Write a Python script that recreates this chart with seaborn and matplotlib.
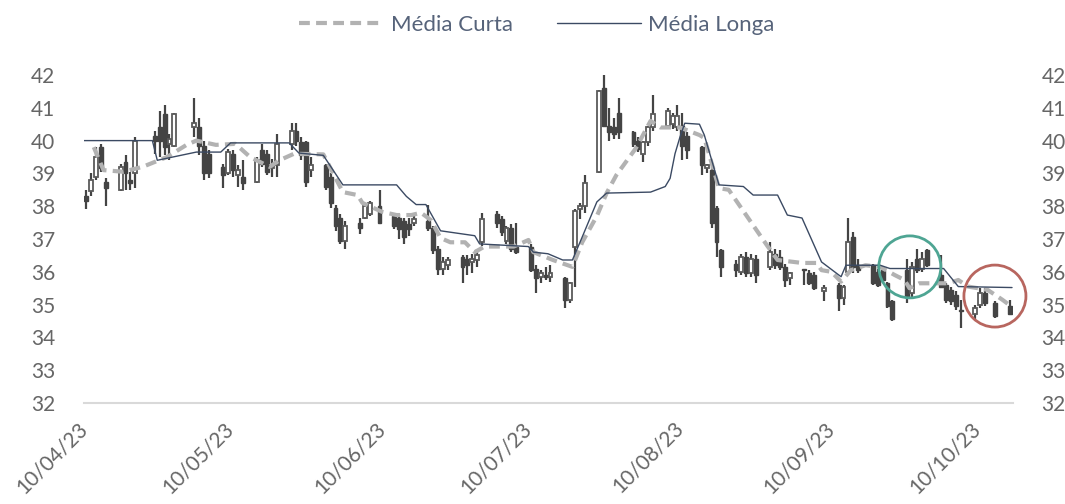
import matplotlib
matplotlib.use("Agg")
import matplotlib.pyplot as plt
import matplotlib.dates as mdates
from matplotlib.patches import Ellipse
import numpy as np
import pandas as pd
import seaborn as sns

# pregões (candles)
datas = [
    "2023-04-10", "2023-04-11", "2023-04-12", "2023-04-13", "2023-04-14", "2023-04-17", "2023-04-18",
    "2023-04-19", "2023-04-20", "2023-04-24", "2023-04-25", "2023-04-26", "2023-04-27", "2023-04-28",
    "2023-05-02", "2023-05-03", "2023-05-04", "2023-05-05", "2023-05-08", "2023-05-09", "2023-05-10",
    "2023-05-11", "2023-05-12", "2023-05-15", "2023-05-16", "2023-05-17", "2023-05-18", "2023-05-19",
    "2023-05-22", "2023-05-23", "2023-05-24", "2023-05-25", "2023-05-26", "2023-05-29", "2023-05-30",
    "2023-05-31", "2023-06-01", "2023-06-02", "2023-06-05", "2023-06-06", "2023-06-07", "2023-06-09",
    "2023-06-12", "2023-06-13", "2023-06-14", "2023-06-15", "2023-06-16", "2023-06-19", "2023-06-20",
    "2023-06-21", "2023-06-22", "2023-06-23", "2023-06-26", "2023-06-27", "2023-06-28", "2023-06-29",
    "2023-06-30", "2023-07-03", "2023-07-04", "2023-07-05", "2023-07-06", "2023-07-07", "2023-07-10",
    "2023-07-11", "2023-07-12", "2023-07-13", "2023-07-14", "2023-07-17", "2023-07-18", "2023-07-19",
    "2023-07-20", "2023-07-21", "2023-07-24", "2023-07-25", "2023-07-26", "2023-07-27", "2023-07-28",
    "2023-07-31", "2023-08-01", "2023-08-02", "2023-08-03", "2023-08-04", "2023-08-07", "2023-08-08",
    "2023-08-09", "2023-08-10", "2023-08-11", "2023-08-14", "2023-08-15", "2023-08-16", "2023-08-17",
    "2023-08-18", "2023-08-21", "2023-08-22", "2023-08-23", "2023-08-24", "2023-08-25", "2023-08-28",
    "2023-08-29", "2023-08-30", "2023-08-31", "2023-09-01", "2023-09-04", "2023-09-05", "2023-09-06",
    "2023-09-08", "2023-09-11", "2023-09-12", "2023-09-13", "2023-09-14", "2023-09-15", "2023-09-18",
    "2023-09-19", "2023-09-20", "2023-09-21", "2023-09-22", "2023-09-25", "2023-09-26", "2023-09-27",
    "2023-09-28", "2023-09-29", "2023-10-02", "2023-10-03", "2023-10-04", "2023-10-05", "2023-10-06",
    "2023-10-09", "2023-10-10", "2023-10-11", "2023-10-13", "2023-10-16",
]
abertura = [
    38.30, 38.45, 38.90, 39.80, 38.75, 38.50, 39.35, 38.80, 39.00, 40.15, 40.40, 40.80, 39.90, 39.85,
    40.40, 40.40, 39.85, 39.60, 39.20, 39.00, 39.60, 38.95, 38.90, 38.75, 39.70, 39.60, 39.15, 39.25,
    39.90, 40.30, 39.95, 39.95, 39.10, 39.25, 38.90, 37.95, 37.65, 36.95, 37.50, 37.65, 37.75, 38.00,
    37.70, 37.65, 37.55, 37.45, 37.50, 37.55, 37.35, 36.70, 36.10, 36.20, 36.45, 36.40, 36.30, 36.35,
    36.90, 37.75, 37.60, 36.95, 37.35, 36.75, 36.75, 36.10, 35.85, 35.90, 35.85, 35.80, 35.15, 36.75,
    37.90, 38.00, 39.05, 41.60, 40.45, 40.40, 40.85, 40.25, 40.00, 39.60, 39.95, 40.40, 40.45, 40.50,
    40.40, 40.45, 40.15, 39.80, 39.15, 39.10, 37.95, 36.65, 36.25, 36.00, 36.45, 35.95, 36.40, 36.15,
    36.55, 36.45, 36.15, 35.80, 36.10, 35.95, 35.90, 35.40, 35.60, 35.20, 36.00, 37.05, 36.20, 36.20,
    36.00, 36.05, 35.65, 35.10, 36.05, 35.35, 36.40, 36.10, 36.65, 35.90, 35.60, 35.45, 35.30, 34.85,
    34.70, 35.00, 35.35, 35.05, 34.95,
]
maxima = [
    38.50, 39.00, 39.80, 39.90, 38.85, 39.30, 39.55, 39.05, 40.10, 40.30, 40.90, 41.10, 40.20, 40.85,
    41.30, 40.70, 40.00, 39.70, 39.30, 39.75, 39.70, 39.25, 39.40, 39.50, 39.90, 39.70, 39.45, 40.20,
    40.55, 40.55, 40.10, 40.00, 39.50, 39.30, 39.00, 38.05, 37.75, 37.55, 37.65, 38.10, 38.15, 38.50,
    37.80, 37.75, 37.65, 37.65, 37.80, 38.05, 37.40, 36.80, 36.45, 36.45, 36.50, 36.50, 36.55, 36.65,
    37.80, 37.85, 37.70, 37.40, 37.45, 37.50, 36.85, 36.20, 36.05, 36.15, 36.20, 35.85, 35.70, 37.90,
    38.10, 38.95, 41.55, 42.00, 41.00, 40.70, 41.30, 40.30, 40.10, 40.00, 40.45, 41.40, 41.00, 40.85,
    41.10, 40.85, 40.25, 39.85, 39.30, 39.20, 38.00, 36.70, 36.35, 36.55, 36.60, 36.55, 36.50, 36.90,
    36.70, 36.65, 36.25, 36.00, 36.10, 36.05, 36.00, 35.60, 35.65, 35.60, 37.65, 37.20, 36.40, 36.25,
    36.10, 36.15, 35.70, 35.15, 36.40, 36.30, 36.70, 36.60, 36.70, 36.50, 35.65, 35.55, 35.40, 35.15,
    35.00, 35.50, 35.50, 35.10, 35.15,
]
minima = [
    37.90, 38.30, 38.80, 39.05, 38.00, 38.45, 38.50, 38.50, 38.55, 39.60, 39.50, 39.55, 39.40, 39.80,
    40.10, 39.55, 38.80, 38.85, 38.55, 38.95, 38.90, 38.60, 38.50, 38.70, 39.20, 38.95, 38.90, 38.90,
    39.70, 39.85, 39.40, 38.60, 38.90, 38.50, 37.95, 37.25, 36.85, 36.70, 37.15, 37.60, 37.70, 37.45,
    37.30, 37.00, 36.85, 37.10, 37.40, 37.25, 36.55, 35.90, 35.90, 36.05, 35.65, 35.90, 35.95, 36.15,
    36.80, 37.35, 37.10, 36.85, 36.60, 36.55, 36.00, 35.35, 35.65, 35.75, 35.70, 34.90, 35.05, 35.55,
    37.60, 37.80, 39.00, 40.40, 40.00, 40.05, 40.05, 39.80, 39.65, 39.35, 39.85, 40.30, 40.35, 40.35,
    40.30, 39.40, 39.45, 38.95, 39.00, 37.35, 36.45, 35.85, 35.85, 35.90, 35.85, 35.85, 35.65, 36.05,
    36.10, 36.05, 35.55, 35.60, 35.60, 35.60, 35.45, 35.10, 34.80, 35.00, 35.95, 35.95, 35.95, 35.60,
    35.55, 35.65, 34.90, 34.50, 35.05, 35.20, 35.95, 36.00, 36.15, 35.50, 35.05, 35.00, 34.85, 34.30,
    34.55, 34.90, 34.95, 34.60, 34.70,
]
fechamento = [
    38.15, 38.80, 39.50, 39.15, 38.55, 39.20, 39.00, 38.70, 40.00, 40.00, 40.00, 39.80, 40.05, 40.80,
    40.55, 39.85, 39.00, 39.00, 38.95, 39.65, 39.10, 39.10, 38.70, 39.40, 39.30, 39.05, 39.25, 39.90,
    40.30, 40.00, 39.55, 38.75, 39.25, 38.60, 38.10, 37.40, 36.95, 37.40, 37.35, 38.00, 38.10, 37.50,
    37.40, 37.30, 37.05, 37.30, 37.60, 37.35, 36.65, 36.10, 36.30, 36.35, 36.15, 36.20, 36.40, 36.50,
    37.60, 37.50, 37.20, 37.35, 36.70, 36.60, 36.05, 35.80, 35.95, 35.85, 35.95, 35.15, 35.65, 37.85,
    38.00, 38.70, 41.50, 40.45, 40.25, 40.20, 40.25, 39.90, 39.75, 39.95, 40.40, 40.80, 40.90, 40.75,
    40.75, 39.85, 39.70, 39.25, 39.25, 37.50, 36.90, 36.15, 36.05, 36.45, 35.95, 36.40, 35.90, 36.60,
    36.20, 36.15, 35.75, 35.95, 36.05, 35.65, 35.50, 35.50, 35.20, 35.55, 36.90, 36.15, 36.05, 35.65,
    35.60, 35.75, 34.95, 34.55, 35.25, 36.15, 36.05, 36.40, 36.20, 35.55, 35.15, 35.10, 34.95, 34.80,
    34.90, 35.35, 35.05, 34.65, 34.70,
]

# médias móveis
curta_datas = [
    "2023-04-12", "2023-04-14", "2023-04-18", "2023-04-22", "2023-04-27", "2023-05-01", "2023-05-03",
    "2023-05-07", "2023-05-11", "2023-05-14", "2023-05-18", "2023-05-20", "2023-05-23", "2023-05-29",
    "2023-06-02", "2023-06-05", "2023-06-06", "2023-06-10", "2023-06-13", "2023-06-16", "2023-06-18",
    "2023-06-20", "2023-06-22", "2023-06-24", "2023-06-27", "2023-06-29", "2023-07-01", "2023-07-07",
    "2023-07-10", "2023-07-11", "2023-07-15", "2023-07-19", "2023-07-21", "2023-07-24", "2023-07-26",
    "2023-07-28", "2023-08-01", "2023-08-04", "2023-08-06", "2023-08-10", "2023-08-14", "2023-08-15",
    "2023-08-18", "2023-08-20", "2023-08-28", "2023-08-30", "2023-09-04", "2023-09-07", "2023-09-08",
    "2023-09-10", "2023-09-12", "2023-09-14", "2023-09-17", "2023-09-20", "2023-09-23", "2023-09-25",
    "2023-09-26", "2023-09-28", "2023-10-04", "2023-10-06", "2023-10-08", "2023-10-12", "2023-10-15",
    "2023-10-17",
]
curta_valores = [
    39.80, 39.10, 39.05, 39.20, 39.50, 39.87, 40.00, 39.87, 39.90, 39.50, 39.20, 39.40, 39.60, 39.58,
    38.43, 38.34, 38.10, 37.83, 37.73, 37.73, 37.80, 37.58, 37.03, 36.90, 36.90, 36.60, 36.77, 36.77,
    36.97, 36.60, 36.36, 36.15, 36.90, 37.70, 38.40, 38.95, 39.77, 40.60, 40.40, 40.40, 40.17, 40.08,
    38.55, 38.50, 36.77, 36.36, 36.27, 36.27, 36.05, 36.00, 35.70, 36.05, 36.20, 36.15, 35.90, 35.75,
    35.50, 35.65, 35.65, 35.75, 35.55, 35.45, 35.15, 34.93,
]
longa_datas = [
    "2023-04-10", "2023-04-24", "2023-04-25", "2023-05-03", "2023-05-08", "2023-05-10", "2023-05-22",
    "2023-05-24", "2023-05-29", "2023-06-02", "2023-06-13", "2023-06-15", "2023-06-17", "2023-06-19",
    "2023-06-22", "2023-06-29", "2023-06-30", "2023-07-10", "2023-07-11", "2023-07-14", "2023-07-17",
    "2023-07-19", "2023-07-21", "2023-07-24", "2023-07-26", "2023-08-04", "2023-08-07", "2023-08-08",
    "2023-08-09", "2023-08-10", "2023-08-11", "2023-08-14", "2023-08-15", "2023-08-18", "2023-08-23",
    "2023-08-25", "2023-08-30", "2023-09-01", "2023-09-04", "2023-09-08", "2023-09-12", "2023-09-13",
    "2023-09-20", "2023-09-22", "2023-10-03", "2023-10-06", "2023-10-17",
]
longa_valores = [
    40.00, 40.00, 39.40, 39.65, 39.65, 39.93, 39.93, 39.62, 39.55, 38.65, 38.65, 38.30, 38.05, 38.05,
    37.25, 37.10, 36.85, 36.77, 36.60, 36.55, 36.36, 36.36, 37.06, 38.13, 38.40, 38.43, 38.60, 38.85,
    39.60, 40.10, 40.53, 40.50, 40.17, 38.65, 38.60, 38.34, 38.34, 37.73, 37.64, 36.30, 35.85, 36.20,
    36.20, 36.10, 36.10, 35.55, 35.52,
]

COR_TEXTO = "#666666"
COR_LEGENDA = "#56637a"
COR_CANDLE = "#444444"
COR_CURTA = "#b2b2b2"
COR_LONGA = "#3b4a63"

sns.set_style("white")
plt.rcParams["font.family"] = ["Lato", "DejaVu Sans"]

fig = plt.figure(figsize=(10.65, 5.04), dpi=100)
ax = fig.add_axes([84 / 1065, 101 / 504, 929 / 1065, 328 / 504])

# candles: posicionados no meio do dia
velas = pd.DataFrame({"data": pd.to_datetime(datas) + pd.Timedelta(hours=12),
                      "o": abertura, "h": maxima, "l": minima, "c": fechamento})
x = mdates.date2num(velas["data"])
o = velas["o"].to_numpy()
c = velas["c"].to_numpy()
base = np.minimum(o, c)
altura = np.clip(np.abs(c - o), 0.05, None)
alta = c >= o

ax.vlines(x, velas["l"], velas["h"], color=COR_CANDLE, linewidth=1.6, zorder=2)
ax.bar(x[~alta], altura[~alta], bottom=base[~alta], width=0.8, color=COR_CANDLE,
       edgecolor=COR_CANDLE, linewidth=1.0, zorder=3)
ax.bar(x[alta], altura[alta], bottom=base[alta], width=0.8, color="white",
       edgecolor="#5a5a5a", linewidth=1.3, zorder=3)

curta = pd.DataFrame({"data": pd.to_datetime(curta_datas), "valor": curta_valores})
longa = pd.DataFrame({"data": pd.to_datetime(longa_datas), "valor": longa_valores})
sns.lineplot(data=curta, x="data", y="valor", ax=ax, color=COR_CURTA, linewidth=3.0,
             label="Média Curta", zorder=4)
ax.lines[-1].set_dashes([2.6, 1.5])
sns.lineplot(data=longa, x="data", y="valor", ax=ax, color=COR_LONGA, linewidth=1.0,
             label="Média Longa", zorder=5)

# destaques
for centro, valor, cor in [("2023-09-26 02:00", 36.15, "#4ea593"), ("2023-10-13 12:00", 35.26, "#b8665f")]:
    ax.add_patch(Ellipse((mdates.date2num(pd.Timestamp(centro)), valor), width=12.7, height=1.89,
                         fill=False, edgecolor=cor, linewidth=2.0, clip_on=False, zorder=6))

inicio = mdates.date2num(pd.Timestamp("2023-04-10"))
ax.set_xlim(inicio, inicio + 190.2)
ax.set_ylim(32, 42)
ax.set_yticks(range(32, 43))
ax.set_xlabel("")
ax.set_ylabel("")
ax.xaxis.label.set_visible(False)
ax.yaxis.label.set_visible(False)

ax.xaxis.set_major_locator(mdates.MonthLocator(bymonthday=10))
ax.xaxis.set_major_formatter(mdates.DateFormatter("%d/%m/%y"))
ax.xaxis.get_offset_text().set_visible(False)

for lado in ["top", "left", "right"]:
    ax.spines[lado].set_visible(False)
ax.spines["bottom"].set_color("#d9d9d9")
ax.spines["bottom"].set_linewidth(1.5)

ax.tick_params(axis="x", color="#d9d9d9", length=7, width=1.5, labelcolor=COR_TEXTO,
               labelsize=15, pad=9)
ax.tick_params(axis="y", left=False, right=False, labelleft=True, labelright=True,
               labelcolor=COR_TEXTO, labelsize=15, pad=17)
for rotulo in ax.get_xticklabels():
    rotulo.set_rotation(45)
    rotulo.set_ha("right")
    rotulo.set_va("center")
    rotulo.set_rotation_mode("anchor")

handles, labels = ax.get_legend_handles_labels()
ax.get_legend().remove()
fig.legend(handles, labels, loc="center", bbox_to_anchor=(537 / 1065, 1 - 25 / 504), ncol=2,
           frameon=False, fontsize=16, handlelength=3.8, handletextpad=0.3, columnspacing=2.0,
           labelcolor=COR_LEGENDA)

fig.savefig("out.png", dpi=100)
plt.close(fig)
